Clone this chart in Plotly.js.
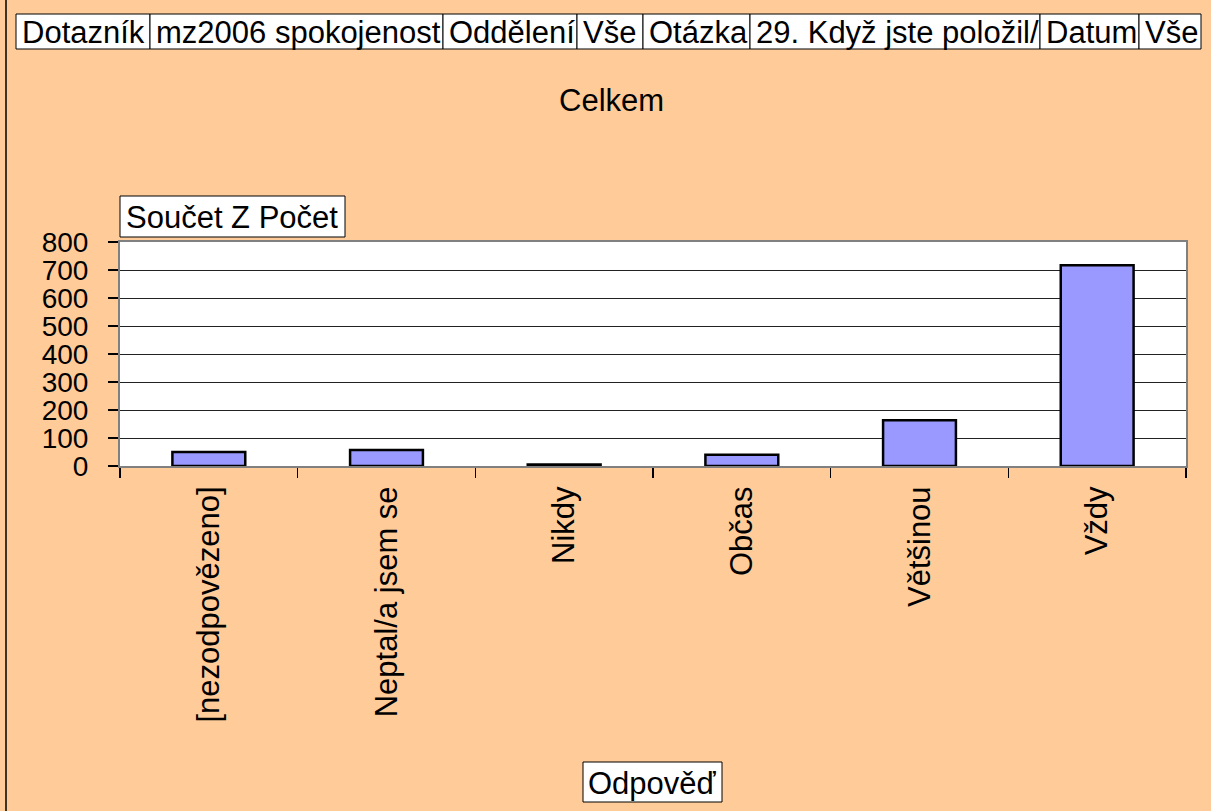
<!DOCTYPE html>
<html>
<head>
<meta charset="utf-8">
<script src="https://cdn.plot.ly/plotly-3.0.1.min.js"></script>
<style>
html,body{margin:0;padding:0;background:#ffcc99;}
#chart{width:1211px;height:811px;}
</style>
</head>
<body>
<div id="chart"></div>
<script>
// Data
const categories = ["[nezodpovězeno]", "Neptal/a jsem se", "Nikdy", "Občas", "Většinou", "Vždy"];
const counts = [50, 57, 5, 40, 163, 717];
const yTicks = [0, 100, 200, 300, 400, 500, 600, 700, 800];
const headerLabels = ["Dotazník", "mz2006 spokojenost", "Oddělení", "Vše", "Otázka", "29. Když jste položil/", "Datum", "Vše"];
const chartTitle = "Celkem";
const yTitle = "Součet Z Počet";
const xTitle = "Odpověď";

const W = 1211, H = 811;
const L = 120, R = 25, T = 242, B = 345;
const pw = W - L - R, ph = H - T - B;
const px = x => (x - L) / pw;
const py = y => (H - B - y) / ph;

const FONT = "Liberation Sans, Arial, sans-serif";
const FS = 31;

// header box edges in pixels (layout)
const headerEdges = [16, 150, 443, 577, 643, 750, 1040, 1139, 1201];
const headerTop = 14, headerBottom = 49;

const annotations = [];
const shapes = [];
function box(text, x0, x1, y0, y1, align) {
  shapes.push({
    type: "rect", xref: "paper", yref: "paper", layer: "above",
    x0: px(x0), x1: px(x1), y0: py(y0), y1: py(y1),
    fillcolor: "#ffffff", line: {color: "#000000", width: 1}
  });
  annotations.push({
    xref: "paper", yref: "paper",
    x: align === "left" ? px(x0 + 4) : px((x0 + x1) / 2),
    y: py((y0 + y1) / 2 + 1),
    xanchor: align === "left" ? "left" : "center", yanchor: "middle",
    text: text, showarrow: false,
    font: {family: FONT, size: FS, color: "#000"}
  });
}
headerLabels.forEach((t, i) => box(t, headerEdges[i], headerEdges[i + 1], headerTop, headerBottom, "left"));
box(yTitle, 120, 345, 196, 237, "left");
box(xTitle, 583, 722, 762, 802, "center");

annotations.push({
  xref: "paper", yref: "paper", x: px(611), y: py(101),
  xanchor: "center", yanchor: "middle", showarrow: false,
  text: chartTitle, font: {family: FONT, size: FS, color: "#000"}
});

shapes.push({
  type: "line", xref: "paper", yref: "paper", layer: "above",
  x0: px(6), x1: px(6), y0: py(0), y1: py(H),
  line: {color: "#000", width: 1.5}
});

const data = [{
  type: "bar",
  x: categories,
  y: counts,
  marker: {color: "#9999ff", line: {color: "#000000", width: 2.5}},
  hoverinfo: "x+y"
}];

const layout = {
  width: W, height: H,
  margin: {l: L, r: R, t: T, b: B, pad: 0},
  paper_bgcolor: "#ffcc99",
  plot_bgcolor: "#ffffff",
  bargap: 0.59,
  showlegend: false,
  font: {family: FONT, size: FS, color: "#000"},
  xaxis: {
    type: "category",
    tickangle: -90,
    tickson: "boundaries",
    ticks: "outside", ticklen: 10, tickcolor: "#000", tickwidth: 1.5,
    showline: true, linecolor: "#808080", linewidth: 2, mirror: true,
    showgrid: false, zeroline: false,
    tickfont: {family: FONT, size: FS, color: "#000"},
    ticklabelstandoff: 6,
    fixedrange: true
  },
  yaxis: {
    range: [0, 800],
    tickvals: yTicks,
    ticktext: yTicks.map(String),
    ticks: "outside", ticklen: 10, tickcolor: "#000", tickwidth: 1.5,
    showline: true, linecolor: "#808080", linewidth: 2, mirror: true,
    showgrid: true, gridcolor: "#222222", gridwidth: 1,
    zeroline: false,
    tickfont: {family: FONT, size: 28, color: "#000"},
    ticklabelstandoff: 14,
    fixedrange: true
  },
  annotations: annotations,
  shapes: shapes
};

Plotly.newPlot("chart", data, layout, {displayModeBar: false, staticPlot: true});
</script>
</body>
</html>
